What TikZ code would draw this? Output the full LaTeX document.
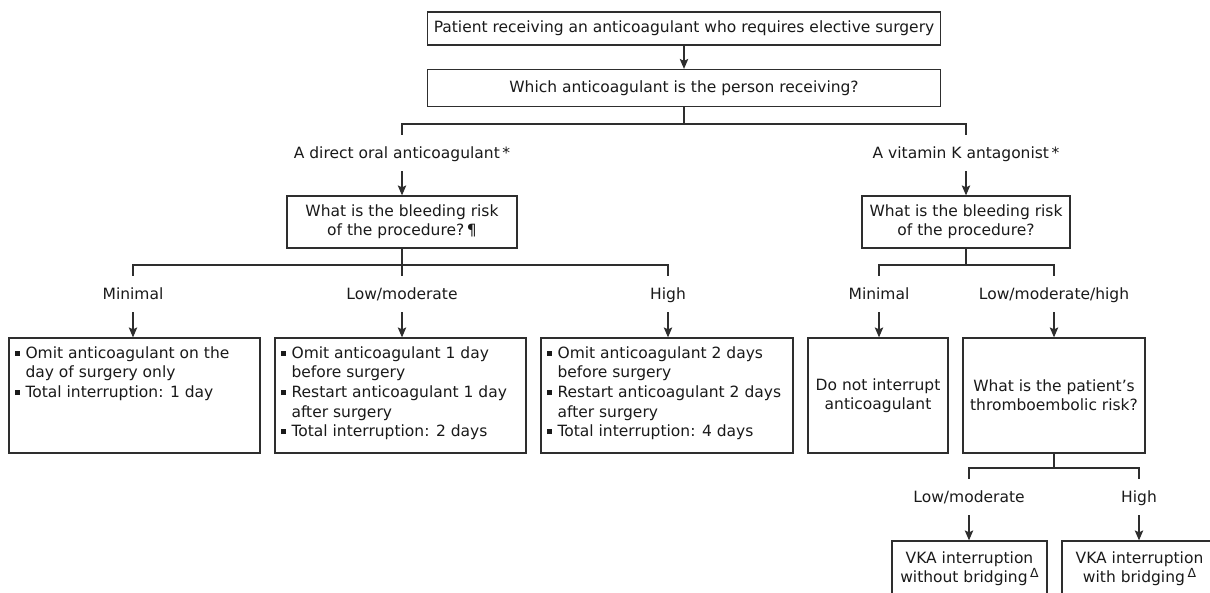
\documentclass[tikz,border=0pt]{standalone}
\usepackage{fontspec}
\setmainfont{DejaVu Sans}
\usetikzlibrary{arrows.meta}
\definecolor{ink}{HTML}{1A1A1A}
\definecolor{edge}{HTML}{2E2E2E}
\newcommand{\bq}{\makebox[11pt][l]{\raisebox{2.5pt}{\rule{5pt}{5pt}}}}
\newcommand{\ind}{\hspace*{11pt}}
\newcommand{\dlt}{\,\raisebox{5pt}{\fontsize{12.5}{12.5}\selectfont Δ}}
\begin{document}
\begin{tikzpicture}[x=1pt,y=-1pt,
  font=\fontsize{15.5}{18.8}\selectfont, text=ink,
  box/.style={draw=edge, line width=1.3pt, inner sep=0pt, align=center},
  lab/.style={inner sep=0pt, text height=11pt, text depth=3pt, anchor=base},
  bul/.style={inner sep=0pt, anchor=north west, align=left, font=\fontsize{15.5}{19.6}\selectfont},
  conn/.style={draw=edge, line width=1.1pt},
  arr/.style={conn, -{Stealth[length=10pt,width=8.5pt,inset=2pt]}}]
\useasboundingbox (0,0) rectangle (1210,592);
\clip (0,0) rectangle (1210,592);
\fill[white] (0,0) rectangle (1210,592);

% top
\node[box, minimum width=513pt, minimum height=33pt] (top) at (684,28.5) {Patient receiving an anticoagulant who requires elective surgery};
\node[box, minimum width=513pt, minimum height=37pt] (which) at (684,88) {Which anticoagulant is the person receiving?};
\draw[arr] (top) -- (which);

\coordinate (j1) at (684,124);
\node[lab] (ldoac) at (402,158) {A direct oral anticoagulant\,*};
\node[lab] (lvka) at (966,158) {A vitamin K antagonist\,*};
\draw[conn] (which.south) -- (j1);
\draw[conn] ([yshift=12pt]ldoac.north) |- (j1) -| ([yshift=12pt]lvka.north);

\node[box, minimum width=230pt, minimum height=52pt] (dq) at (402,222) {What is the bleeding risk\\of the procedure?\,¶};
\node[box, minimum width=208pt, minimum height=52pt] (vq) at (966,222) {What is the bleeding risk\\of the procedure?};
\draw[arr] ([yshift=-10pt]ldoac.south) -- (ldoac.south |- dq.north);
\draw[arr] ([yshift=-10pt]lvka.south) -- (lvka.south |- vq.north);

% DOAC branches
\coordinate (j2) at (402,265);
\node[lab] (lm1) at (133,299) {Minimal};
\node[lab] (lm2) at (402,299) {Low/moderate};
\node[lab] (lm3) at (668,299) {High};
\draw[conn] (dq.south) -- ([yshift=12pt]lm2.north);
\draw[conn] ([yshift=12pt]lm1.north) |- (j2) -| ([yshift=12pt]lm3.north);

\node[box, minimum width=251pt, minimum height=115pt] (m1) at (134.5,395.5) {};
\node[box, minimum width=251pt, minimum height=115pt] (m2) at (400.5,395.5) {};
\node[box, minimum width=252pt, minimum height=115pt] (m3) at (667,395.5) {};
\draw[arr] ([yshift=-10pt]lm1.south) -- (lm1.south |- m1.north);
\draw[arr] ([yshift=-10pt]lm2.south) -- (lm2.south |- m2.north);
\draw[arr] ([yshift=-10pt]lm3.south) -- (lm3.south |- m3.north);

\node[bul] (t1) at ([xshift=6pt,yshift=-9pt]m1.north west) {\bq Omit anticoagulant on the\\\ind day of surgery only\\\bq Total interruption: 1 day};
\node[bul] (t2) at ([xshift=6pt,yshift=-9pt]m2.north west) {\bq Omit anticoagulant 1 day\\\ind before surgery\\\bq Restart anticoagulant 1 day\\\ind after surgery\\\bq Total interruption: 2 days};
\node[bul] (t3) at ([xshift=6pt,yshift=-9pt]m3.north west) {\bq Omit anticoagulant 2 days\\\ind before surgery\\\bq Restart anticoagulant 2 days\\\ind after surgery\\\bq Total interruption: 4 days};

% VKA branches
\coordinate (j3) at (966,265);
\node[lab] (lv1) at (879,299) {Minimal};
\node[lab] (lv2) at (1054,299) {Low/moderate/high};
\draw[conn] (vq.south) -- (j3);
\draw[conn] ([yshift=12pt]lv1.north) |- (j3) -| ([yshift=12pt]lv2.north);

\node[box, minimum width=140pt, minimum height=115pt] (v1) at (878,395.5) {Do not interrupt\\anticoagulant};
\node[box, minimum width=182pt, minimum height=115pt] (v2) at (1054,395.5) {What is the patient’s\\thromboembolic risk?};
\draw[arr] ([yshift=-10pt]lv1.south) -- (lv1.south |- v1.north);
\draw[arr] ([yshift=-10pt]lv2.south) -- (lv2.south |- v2.north);

% thromboembolic risk
\coordinate (j4) at (1054,468);
\node[lab] (lw1) at (969,502) {Low/moderate};
\node[lab] (lw2) at (1139,502) {High};
\draw[conn] (v2.south) -- (j4);
\draw[conn] ([yshift=12pt]lw1.north) |- (j4) -| ([yshift=12pt]lw2.north);

\node[box, minimum width=155pt, minimum height=55pt] (w1) at (969.5,568.5) {VKA interruption\\without bridging\dlt};
\node[box, minimum width=155pt, minimum height=55pt] (w2) at (1139.5,568.5) {VKA interruption\\with bridging\dlt};
\draw[arr] ([yshift=-10pt]lw1.south) -- (lw1.south |- w1.north);
\draw[arr] ([yshift=-10pt]lw2.south) -- (lw2.south |- w2.north);
\end{tikzpicture}
\end{document}
